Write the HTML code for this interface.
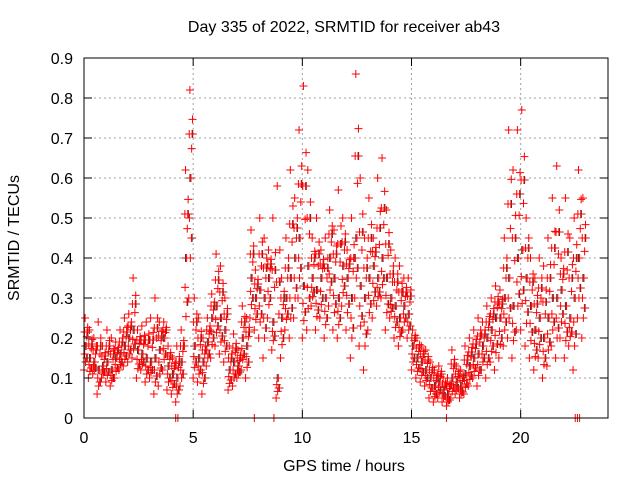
<!DOCTYPE html>
<html><head><meta charset="utf-8"><style>
body{margin:0;background:#fff}
svg{display:block;font-family:"Liberation Sans",sans-serif}
</style></head><body>
<svg id="chart" width="640" height="480" viewBox="0 0 640 480">
<rect width="640" height="480" fill="#fff"/>
<text x="344" y="32" font-size="16" text-anchor="middle">Day 335 of 2022, SRMTID for receiver ab43</text>
<text x="344" y="471" font-size="16" text-anchor="middle">GPS time / hours</text>
<text transform="translate(19,238) rotate(-90)" font-size="16" text-anchor="middle">SRMTID / TECUs</text>
<g id="grid"></g><g id="marks"></g><g id="axes"></g>
</svg>
<script>
const hours=[0.0,0.2,0.4,0.6,0.8,1.0,1.2,1.4,1.6,1.8,2.0,2.2,2.4,2.6,2.8,3.0,3.2,3.4,3.6,3.8,4.0,4.2,4.4,4.6,4.8,5.0,5.2,5.4,5.6,5.8,6.0,6.2,6.4,6.6,6.8,7.0,7.2,7.4,7.6,7.8,8.0,8.2,8.4,8.6,8.8,9.0,9.2,9.4,9.6,9.8,10.0,10.2,10.4,10.6,10.8,11.0,11.2,11.4,11.6,11.8,12.0,12.2,12.4,12.6,12.8,13.0,13.2,13.4,13.6,13.8,14.0,14.2,14.4,14.6,14.8,15.0,15.2,15.4,15.6,15.8,16.0,16.2,16.4,16.6,16.8,17.0,17.2,17.4,17.6,17.8,18.0,18.2,18.4,18.6,18.8,19.0,19.2,19.4,19.6,19.8,20.0,20.2,20.4,20.6,20.8,21.0,21.2,21.4,21.6,21.8,22.0,22.2,22.4,22.6,22.8];
const lowVals=[.12,.10,.11,.06,.10,.09,.08,.10,.12,.13,.14,.15,.10,.12,.09,.10,.06,.08,.12,.07,.06,.04,.08,.18,.30,.10,.09,.06,.13,.15,.18,.16,.14,.07,.08,.10,.12,.10,.25,.22,.20,.15,.25,.17,.05,.15,.22,.20,.25,.30,.20,.22,.28,.22,.25,.20,.28,.22,.20,.28,.22,.15,.30,.18,.12,.22,.25,.28,.30,.22,.25,.20,.18,.22,.20,.12,.10,.09,.08,.05,.04,.05,.04,.03,.05,.06,.05,.06,.08,.10,.08,.12,.10,.14,.12,.15,.18,.20,.15,.22,.22,.18,.15,.12,.15,.10,.13,.18,.15,.20,.15,.18,.12,.25,.20];
const midVals=[.18,.15,.14,.12,.13,.14,.12,.15,.16,.18,.20,.22,.17,.16,.15,.14,.15,.17,.20,.13,.11,.10,.14,.40,.60,.18,.15,.14,.19,.25,.28,.25,.22,.12,.14,.13,.20,.18,.35,.30,.32,.30,.35,.24,.10,.25,.30,.35,.40,.45,.33,.38,.35,.32,.35,.30,.40,.35,.30,.38,.35,.30,.45,.33,.30,.35,.38,.35,.40,.35,.30,.28,.25,.28,.26,.18,.15,.14,.12,.10,.08,.09,.07,.06,.10,.09,.08,.11,.13,.15,.16,.18,.20,.22,.25,.25,.30,.35,.28,.40,.42,.35,.28,.22,.25,.20,.25,.30,.30,.32,.28,.25,.30,.40,.35];
const highVals=[.25,.22,.20,.24,.18,.22,.20,.19,.22,.25,.26,.35,.22,.23,.24,.25,.30,.24,.24,.18,.15,.18,.22,.62,.82,.30,.25,.20,.25,.31,.41,.38,.30,.18,.21,.17,.28,.25,.47,.37,.50,.45,.42,.50,.58,.35,.45,.62,.55,.72,.83,.62,.45,.50,.42,.45,.52,.47,.57,.50,.42,.50,.86,.60,.45,.55,.45,.60,.65,.52,.42,.40,.38,.35,.35,.22,.20,.18,.17,.14,.12,.13,.10,.10,.17,.13,.12,.18,.20,.22,.25,.24,.28,.30,.33,.32,.45,.72,.62,.72,.77,.50,.40,.35,.40,.38,.45,.55,.63,.40,.55,.45,.50,.62,.55];
const zeroHours=[4.2,4.3,7.8,8.7,16.6,22.5,22.6,22.7];
const yTicks=[0,0.1,0.2,0.3,0.4,0.5,0.6,0.7,0.8,0.9];
const yTickLabels=["0","0.1","0.2","0.3","0.4","0.5","0.6","0.7","0.8","0.9"];
const xTicks=[0,5,10,15,20];
const xTickLabels=["0","5","10","15","20"];

const L=84,R=608,T=58,B=418;
const xs=h=>L+h*(R-L)/24;
const ys=v=>B-v*(B-T)/0.9;
const NS="http://www.w3.org/2000/svg";
function mk(tag,attrs,parent){const e=document.createElementNS(NS,tag);for(const k in attrs)e.setAttribute(k,attrs[k]);parent.appendChild(e);return e;}
const grid=document.getElementById('grid'),marks=document.getElementById('marks'),axes=document.getElementById('axes');
yTicks.forEach((v,i)=>{
  const y=ys(v);
  if(i>0&&i<yTicks.length-1){const g=mk('line',{x1:L,x2:R,y1:y,y2:y,stroke:'#a0a0a0','stroke-dasharray':'2,3','stroke-width':1},grid);
  
  }
  mk('line',{x1:L,x2:L+8,y1:y,y2:y,stroke:'#000'},axes);
  mk('line',{x1:R-8,x2:R,y1:y,y2:y,stroke:'#000'},axes);
  const t=mk('text',{x:L-11,y:y+6,'font-size':16,'text-anchor':'end'},axes);t.textContent=yTickLabels[i];
  
  
});
xTicks.forEach((h,i)=>{
  const x=xs(h);
  if(i>0){const g=mk('line',{x1:x,x2:x,y1:T,y2:B,stroke:'#a0a0a0','stroke-dasharray':'2,3','stroke-width':1},grid);
  
  }
  mk('line',{x1:x,x2:x,y1:B,y2:B-8,stroke:'#000'},axes);
  mk('line',{x1:x,x2:x,y1:T,y2:T+8,stroke:'#000'},axes);
  const t=mk('text',{x:x,y:B+25,'font-size':16,'text-anchor':'middle'},axes);t.textContent=xTickLabels[i];
  
  
});
const frame=mk('rect',{x:L,y:T,width:R-L,height:B-T,fill:'none',stroke:'#000'},axes);


function plus(h,v,color){
  const x=xs(h),y=ys(v);
  const p=mk('path',{d:`M${x-4},${y}H${x+4}M${x},${y-4}V${y+4}`,stroke:color,'stroke-width':1,fill:'none'},marks);
  
  
}
hours.forEach((h,i)=>{
  const lo=lowVals[i],mi=midVals[i],hi=highVals[i];
  plus(h+0.05,mi,'#333');
  plus(h+0.15,(lo+mi)/2,'#333');
  plus(h+0.18,(mi+hi)/2,'#333');
  plus(h,lo,'#f00');
  plus(h+0.1,mi,'#f00');
  plus(h+0.05,hi,'#f00');
  plus(h+0.15,(mi+hi)/2,'#f00');
  plus(h+0.12,(lo+mi)/2,'#f00');
  plus(h+0.02,(mi+hi)/2,'#f00');
  plus(h+0.07,(2*lo+mi)/3,'#f00');
  plus(h+0.17,(mi+2*hi)/3,'#f00');
  plus(h+0.03,(lo+2*mi)/3,'#f00');
  plus(h+0.13,(2*mi+hi)/3,'#f00');
});
zeroHours.forEach(h=>plus(h,0,'#f00'));
</script>
</body></html>
